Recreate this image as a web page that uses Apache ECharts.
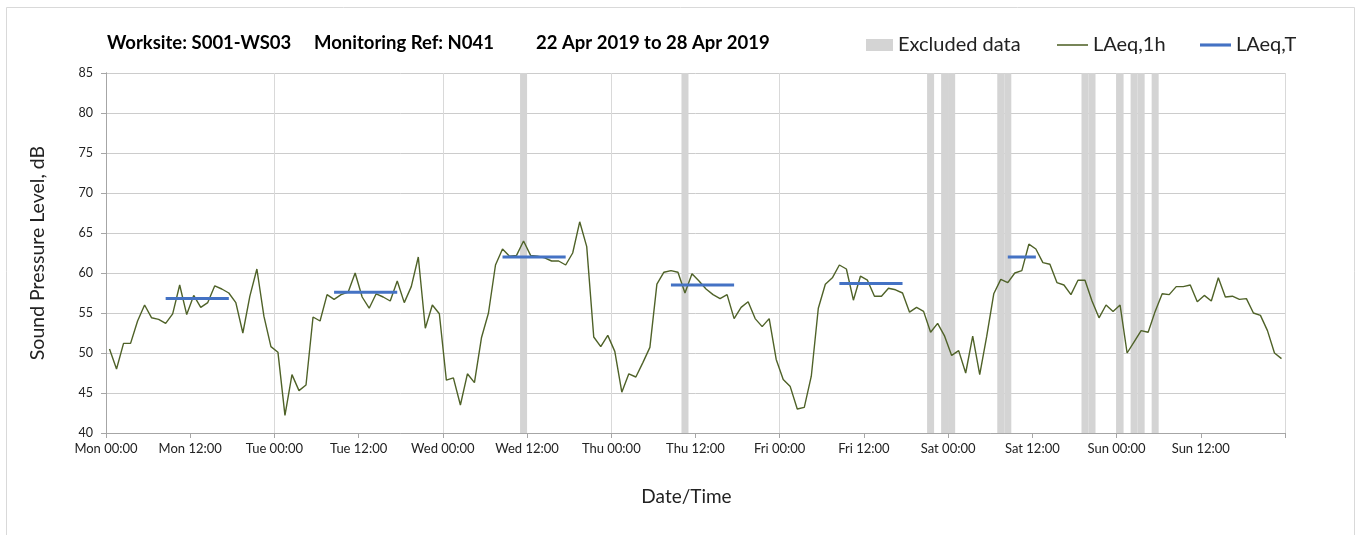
<!DOCTYPE html>
<html>
<head>
<meta charset="utf-8">
<script src="https://cdn.jsdelivr.net/npm/echarts@6/dist/echarts.min.js"></script>
<style>
html,body{margin:0;padding:0;background:#fff;}
#chart{width:1357px;height:535px;}
</style>
</head>
<body>
<div id="chart"></div>
<script>
// Day names for tick labels
const dayNames = ['Mon', 'Tue', 'Wed', 'Thu', 'Fri', 'Sat', 'Sun'];

// Hourly LAeq,1h values (dB), Mon 00:00 .. Sun 23:00
const laeq1hMon = [50.5, 48.0, 51.2, 51.2, 54.0, 56.0, 54.4, 54.2, 53.7, 54.9, 58.5, 54.8, 57.2, 55.7, 56.3, 58.4, 58.0, 57.5, 56.3, 52.5, 57.1, 60.5, 54.6, 50.8];
const laeq1hTue = [50.1, 42.2, 47.3, 45.3, 46.0, 54.5, 54.0, 57.3, 56.7, 57.3, 57.6, 60.0, 57.0, 55.6, 57.4, 57.0, 56.5, 59.0, 56.3, 58.3, 62.0, 53.1, 56.0, 54.9];
const laeq1hWed = [46.6, 46.9, 43.5, 47.4, 46.3, 51.9, 55.0, 61.0, 63.0, 62.1, 62.2, 64.0, 62.2, 62.1, 61.9, 61.5, 61.5, 61.0, 62.5, 66.4, 63.3, 52.0, 50.8, 52.2];
const laeq1hThu = [50.2, 45.1, 47.4, 47.0, 48.8, 50.7, 58.6, 60.1, 60.3, 60.1, 57.5, 59.9, 59.0, 58.0, 57.3, 56.8, 57.3, 54.3, 55.7, 56.4, 54.3, 53.3, 54.3, 49.2];
const laeq1hFri = [46.7, 45.8, 43.0, 43.2, 47.1, 55.6, 58.6, 59.4, 61.0, 60.5, 56.6, 59.6, 59.1, 57.1, 57.1, 58.1, 57.9, 57.5, 55.1, 55.7, 55.2, 52.6, 53.7, 52.1];
const laeq1hSat = [49.7, 50.3, 47.5, 52.1, 47.3, 52.1, 57.4, 59.2, 58.8, 60.0, 60.3, 63.6, 63.0, 61.3, 61.1, 58.8, 58.5, 57.3, 59.1, 59.1, 56.5, 54.4, 56.0, 55.2];
const laeq1hSun = [56.0, 50.0, 51.4, 52.8, 52.6, 55.2, 57.4, 57.3, 58.3, 58.3, 58.5, 56.4, 57.2, 56.5, 59.4, 57.0, 57.1, 56.7, 56.8, 55.0, 54.7, 52.8, 50.0, 49.3];

// LAeq,T per day (null = none) and the hour range it covers
const laeqT = [56.8, 57.6, 62.0, 58.5, 58.7, 62.0, null];
const periodStartHour = [8, 8, 8, 8, 8, 8, 8];
const periodEndHour = [17, 17, 17, 17, 17, 12, 17];

// Excluded hours (hour index from Mon 00:00)
const excludedHours = [59, 82, 117, 119, 120, 127, 128, 139, 140, 144, 146, 147, 149];

// Axis ticks
const yTicks = { min: 40, max: 85, interval: 5 };

const FONT = 'Lato';

const allHourly = [].concat(laeq1hMon, laeq1hTue, laeq1hWed, laeq1hThu, laeq1hFri, laeq1hSat, laeq1hSun);
const hourlyData = allHourly.map((v, i) => [i + 0.5, v]);

const tData = [];
laeqT.forEach((v, d) => {
  if (v == null) return;
  tData.push([d * 24 + periodStartHour[d] + 0.5, v]);
  tData.push([d * 24 + periodEndHour[d] + 0.5, v]);
  tData.push([d * 24 + periodEndHour[d] + 1, null]);
});

const excludedAreas = excludedHours.map(h => [{ xAxis: h }, { xAxis: h + 1 }]);

const titleStyle = { fontFamily: FONT, fontSize: 18.5, fontWeight: 'bold', color: '#000' };
const legendText = { fontFamily: FONT, fontSize: 20, color: '#222' };

const chart = echarts.init(document.getElementById('chart'));
chart.setOption({
  animation: false,
  backgroundColor: '#fff',
  textStyle: { fontFamily: FONT },
  graphic: [{
    type: 'rect', left: 4, top: 5,
    shape: { width: 1348, height: 560 },
    style: { fill: 'none', stroke: '#d9d9d9', lineWidth: 1 },
    silent: true
  }],
  title: [
    { text: 'Worksite: S001-WS03', left: 107, top: 34, padding: 0, textStyle: titleStyle },
    { text: 'Monitoring Ref: N041', left: 314, top: 34, padding: 0, textStyle: titleStyle },
    { text: '22 Apr 2019 to 28 Apr 2019', left: 536, top: 34, padding: 0, textStyle: titleStyle }
  ],
  legend: [{
    left: 866, top: 35, padding: 0, itemWidth: 27, itemHeight: 12,
    textStyle: legendText,
    data: [{ name: 'Excluded data', icon: 'rect' }]
  }, {
    left: 1057, top: 35, padding: 0, itemWidth: 31, itemHeight: 12, itemGap: 0,
    textStyle: legendText,
    data: [{ name: 'LAeq,1h', icon: 'path://M0,0 H30 V1.5 H0 Z' }]
  }, {
    left: 1200, top: 35, padding: 0, itemWidth: 31, itemHeight: 12,
    textStyle: legendText,
    data: [{ name: 'LAeq,T', icon: 'path://M0,0 H30 V3 H0 Z' }]
  }],
  grid: { left: 106, right: 72, top: 73, bottom: 102, containLabel: false },
  xAxis: [{
    type: 'value', min: 0, max: 168, interval: 12,
    name: 'Date/Time', nameLocation: 'middle', nameGap: 54,
    nameTextStyle: { fontFamily: FONT, fontSize: 19, color: '#222', padding: [0, 18, 0, 0] },
    axisLine: { show: true, lineStyle: { color: '#a6a6a6', width: 1 } },
    axisTick: { show: true, length: 5, lineStyle: { color: '#a6a6a6' } },
    axisLabel: {
      fontFamily: FONT, fontSize: 13, color: '#222', margin: 9,
      formatter: v => v >= 168 ? '' : dayNames[Math.floor(v / 24)] + (v % 24 === 0 ? ' 00:00' : ' 12:00')
    },
    splitLine: { show: false }
  }, {
    type: 'value', min: 0, max: 168, interval: 24, position: 'bottom',
    axisLine: { show: false }, axisTick: { show: false }, axisLabel: { show: false },
    splitLine: { show: true, lineStyle: { color: '#d9d9d9', width: 1 } }
  }],
  yAxis: [{
    type: 'value', min: yTicks.min, max: yTicks.max, interval: yTicks.interval,
    name: 'Sound Pressure Level, dB', nameLocation: 'middle', nameGap: 58,
    nameTextStyle: { fontFamily: FONT, fontSize: 19.5, color: '#222' },
    axisLine: { show: true, lineStyle: { color: '#a6a6a6', width: 1 } },
    axisTick: { show: true, length: 5, lineStyle: { color: '#a6a6a6' } },
    axisLabel: { fontFamily: FONT, fontSize: 12.5, color: '#222', margin: 13 },
    splitLine: { show: true, lineStyle: { color: '#cccccc', width: 1 } }
  }, {
    type: 'value', min: yTicks.min, max: yTicks.max, interval: yTicks.interval, position: 'right',
    axisLine: { show: true, lineStyle: { color: '#a6a6a6', width: 1 } },
    axisTick: { show: false }, axisLabel: { show: false }, splitLine: { show: false }
  }],
  series: [{
    name: 'Excluded data', type: 'bar', data: [],
    itemStyle: { color: '#d4d4d4' },
    markArea: { silent: true, itemStyle: { color: '#d4d4d4' }, data: excludedAreas }
  }, {
    name: 'LAeq,1h', type: 'line', data: hourlyData,
    symbol: 'none', lineStyle: { color: '#4f6228', width: 1.4 }, itemStyle: { color: '#4f6228' },
    z: 3
  }, {
    name: 'LAeq,T', type: 'line', data: tData, connectNulls: false,
    symbol: 'none', lineStyle: { color: '#4472c4', width: 3 }, itemStyle: { color: '#4472c4' },
    z: 4
  }]
});
</script>
</body>
</html>
